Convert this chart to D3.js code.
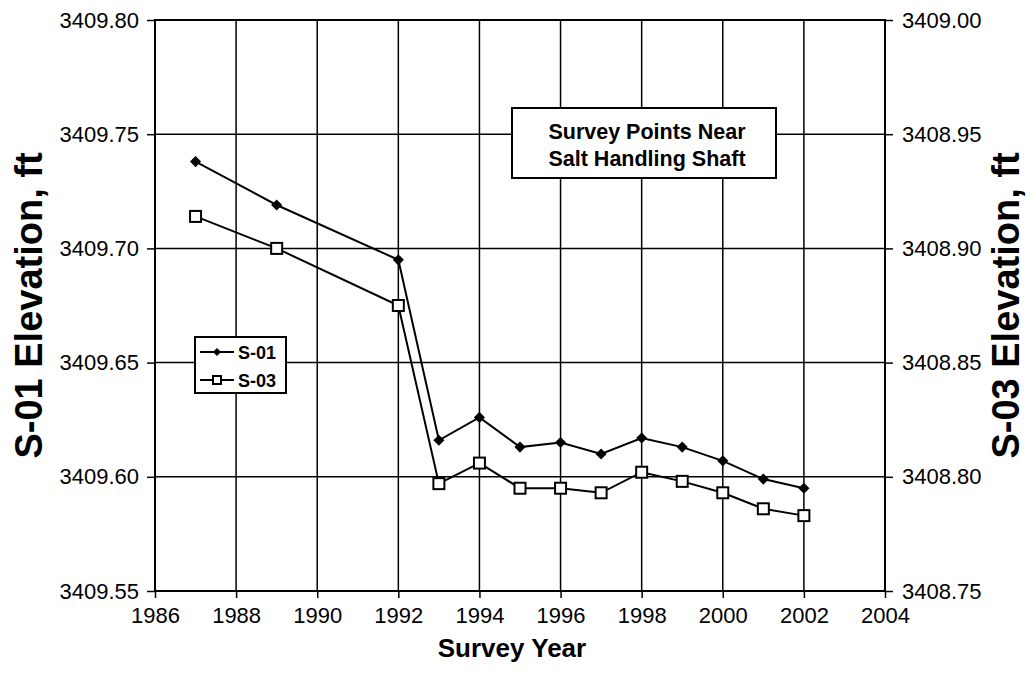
<!DOCTYPE html>
<html>
<head>
<meta charset="utf-8">
<script src="https://cdn.jsdelivr.net/npm/d3@7"></script>
<style>
  html, body { margin: 0; padding: 0; background: #fff; }
  svg text { font-family: "Liberation Sans", Arial, sans-serif; fill: #000; }
</style>
</head>
<body>
<svg id="chart" width="1030" height="687"></svg>
<script>
// Survey years
const years = [1987, 1989, 1992, 1993, 1994, 1995, 1996, 1997, 1998, 1999, 2000, 2001, 2002];
// S-01 elevation (left axis), ft
const s01 = [3409.738, 3409.719, 3409.695, 3409.616, 3409.626, 3409.613, 3409.615, 3409.610, 3409.617, 3409.613, 3409.607, 3409.599, 3409.595];
// S-03 elevation (right axis), ft
const s03 = [3408.914, 3408.900, 3408.875, 3408.797, 3408.806, 3408.795, 3408.795, 3408.793, 3408.802, 3408.798, 3408.793, 3408.786, 3408.783];

const xTicks = [1986, 1988, 1990, 1992, 1994, 1996, 1998, 2000, 2002, 2004];
const leftTicks = [3409.55, 3409.60, 3409.65, 3409.70, 3409.75, 3409.80];
const rightTicks = [3408.75, 3408.80, 3408.85, 3408.90, 3408.95, 3409.00];

const titleLines = ["Survey Points Near", "Salt Handling Shaft"];
const seriesNames = ["S-01", "S-03"];

const svg = d3.select("#chart");
const plot = { left: 155, right: 885, top: 20, bottom: 591 };

const x = d3.scaleLinear().domain([1986, 2004]).range([plot.left, plot.right]);
const yL = d3.scaleLinear().domain([3409.55, 3409.80]).range([plot.bottom, plot.top]);
const yR = d3.scaleLinear().domain([3408.75, 3409.00]).range([plot.bottom, plot.top]);

// gridlines
const grid = svg.append("g");
grid.selectAll("line.v").data(xTicks).join("line")
  .attr("x1", d => x(d)).attr("x2", d => x(d))
  .attr("y1", plot.top).attr("y2", plot.bottom)
  .attr("stroke", "#000").attr("stroke-width", 1.5);
grid.selectAll("line.h").data(leftTicks).join("line")
  .attr("x1", plot.left).attr("x2", plot.right)
  .attr("y1", d => yL(d)).attr("y2", d => yL(d))
  .attr("stroke", "#000").attr("stroke-width", 1.5);

// plot frame
svg.append("rect")
  .attr("x", plot.left).attr("y", plot.top)
  .attr("width", plot.right - plot.left).attr("height", plot.bottom - plot.top)
  .attr("fill", "none").attr("stroke", "#000").attr("stroke-width", 2);

// axes
function styleAxis(g) {
  g.select(".domain").remove();
  g.selectAll(".tick line").attr("stroke", "#000").attr("stroke-width", 1.5);
  g.selectAll(".tick text").style("font-size", "22px").attr("fill", "#000");
}
svg.append("g").attr("transform", `translate(${plot.left},0)`)
  .call(d3.axisLeft(yL).tickValues(leftTicks).tickFormat(d3.format(".2f")).tickSize(8).tickPadding(8))
  .call(styleAxis);
svg.append("g").attr("transform", `translate(${plot.right},0)`)
  .call(d3.axisRight(yR).tickValues(rightTicks).tickFormat(d3.format(".2f")).tickSize(8).tickPadding(9))
  .call(styleAxis);
svg.append("g").attr("transform", `translate(0,${plot.bottom})`)
  .call(d3.axisBottom(x).tickValues(xTicks).tickFormat(d3.format("d")).tickSize(7).tickPadding(9))
  .call(styleAxis);

// axis titles
const midY = (plot.top + plot.bottom) / 2;
svg.append("text").attr("transform", `translate(42,${midY}) rotate(-90)`)
  .attr("text-anchor", "middle").style("font-size", "38px").style("font-weight", "bold")
  .text("S-01 Elevation, ft");
svg.append("text").attr("transform", `translate(1019,${midY}) rotate(-90)`)
  .attr("text-anchor", "middle").style("font-size", "38px").style("font-weight", "bold")
  .text("S-03 Elevation, ft");
svg.append("text").attr("x", (plot.left + plot.right) / 2 - 8).attr("y", 657)
  .attr("text-anchor", "middle").style("font-size", "26px").style("font-weight", "bold")
  .text("Survey Year");

// series lines
const lineL = d3.line().x((d, i) => x(years[i])).y(d => yL(d));
const lineR = d3.line().x((d, i) => x(years[i])).y(d => yR(d));
svg.append("path").datum(s01).attr("d", lineL)
  .attr("fill", "none").attr("stroke", "#000").attr("stroke-width", 2);
svg.append("path").datum(s03).attr("d", lineR)
  .attr("fill", "none").attr("stroke", "#000").attr("stroke-width", 2);

// markers: filled diamonds (rotated squares) and open squares
const diamond = d3.symbol().type(d3.symbolSquare).size(62);
svg.append("g").selectAll("path").data(s01).join("path")
  .attr("transform", (d, i) => `translate(${x(years[i])},${yL(d)}) rotate(45)`)
  .attr("d", diamond).attr("fill", "#000");
svg.append("g").selectAll("rect").data(s03).join("rect")
  .attr("x", (d, i) => x(years[i]) - 5.5).attr("y", d => yR(d) - 5.5)
  .attr("width", 11).attr("height", 11)
  .attr("fill", "#fff").attr("stroke", "#000").attr("stroke-width", 2);

// title box
const tb = svg.append("g");
tb.append("rect").attr("x", 512).attr("y", 108).attr("width", 264).attr("height", 70)
  .attr("fill", "#fff").attr("stroke", "#000").attr("stroke-width", 2);
tb.selectAll("text").data(titleLines).join("text")
  .attr("x", 647).attr("y", (d, i) => 139 + i * 27)
  .attr("text-anchor", "middle").style("font-size", "21.5px").style("font-weight", "bold")
  .text(d => d);

// legend
const lg = svg.append("g");
lg.append("rect").attr("x", 195).attr("y", 337).attr("width", 91).attr("height", 56)
  .attr("fill", "#fff").attr("stroke", "#000").attr("stroke-width", 2);
const items = lg.selectAll("g").data(seriesNames).join("g")
  .attr("transform", (d, i) => `translate(0,${352 + i * 28})`);
items.append("line").attr("x1", 200).attr("x2", 234).attr("y1", 0).attr("y2", 0)
  .attr("stroke", "#000").attr("stroke-width", 2);
items.filter((d, i) => i === 0).append("path")
  .attr("transform", "translate(217,0) rotate(45)")
  .attr("d", d3.symbol().type(d3.symbolSquare).size(32)).attr("fill", "#000");
items.filter((d, i) => i === 1).append("rect")
  .attr("x", 213).attr("y", -4).attr("width", 8).attr("height", 8)
  .attr("fill", "#fff").attr("stroke", "#000").attr("stroke-width", 2);
items.append("text").attr("x", 238).attr("y", 7)
  .style("font-size", "18px").style("font-weight", "bold").text(d => d);
</script>
</body>
</html>
